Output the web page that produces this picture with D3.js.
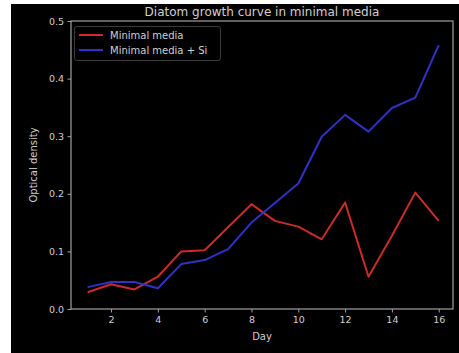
<!DOCTYPE html>
<html lang="en">
<head>
<meta charset="UTF-8">
<script src="https://cdn.jsdelivr.net/npm/d3@7"></script>
<title>Diatom growth</title>
<style>
  body { margin: 0; background: #fff; }
  text { font-family: "DejaVu Sans", sans-serif; }
</style>
</head>
<body>
<script>
    var days = [1, 2, 3, 4, 5, 6, 7, 8, 9, 10, 11, 12, 13, 14, 15, 16];
    var minimal = [0.029, 0.043, 0.034, 0.056, 0.100, 0.102, 0.142, 0.182, 0.153, 0.143, 0.121, 0.185, 0.056, 0.127, 0.202, 0.153];
    var minimalSi = [0.038, 0.047, 0.047, 0.036, 0.078, 0.085, 0.104, 0.150, 0.184, 0.218, 0.299, 0.337, 0.308, 0.349, 0.367, 0.458];
    var xTicks = [2, 4, 6, 8, 10, 12, 14, 16];
    var yTicks = [0.0, 0.1, 0.2, 0.3, 0.4, 0.5];
    var seriesNames = ["Minimal media", "Minimal media + Si"];
    var seriesColors = ["#cc2b2b", "#3131c8"];

    var width = 459, height = 353;
    var plotL = 71, plotR = 453, plotT = 21, plotB = 309;   // "top" is taken by window.top

    var svg = d3.select("body").append("svg")
            .attr("width", width)
            .attr("height", height);

    // dark figure background
    svg.append("rect")
            .attr("x", 11).attr("y", 4)
            .attr("width", width - 11).attr("height", height - 4)
            .attr("fill", "#000");

    var x = d3.scaleLinear().domain([0.29, 16.61]).range([plotL, plotR]);
    var y = d3.scaleLinear().domain([0, 0.5]).range([plotB, plotT]);

    var grey = "#a0a0a0";
    var textCol = "#cfcfcf";

    var xAxis = svg.append("g")
            .attr("transform", "translate(0," + plotB + ")")
            .call(d3.axisBottom(x).tickValues(xTicks).tickSize(3.5).tickPadding(3.5).tickFormat(d3.format("d")));
    var yAxis = svg.append("g")
            .attr("transform", "translate(" + plotL + ",0)")
            .call(d3.axisLeft(y).tickValues(yTicks).tickSize(3.5).tickPadding(3.5).tickFormat(d3.format(".1f")));

    [xAxis, yAxis].forEach(function (g) {
        g.select(".domain").remove();
        g.selectAll("line").attr("stroke", grey);
        g.selectAll("text").attr("fill", textCol).style("font-size", "9.5px")
                .style("font-family", "DejaVu Sans");
    });

    // spines
    svg.append("rect")
            .attr("x", plotL).attr("y", plotT)
            .attr("width", plotR - plotL).attr("height", plotB - plotT)
            .attr("fill", "none").attr("stroke", grey).attr("stroke-width", 1.2);

    var line = d3.line()
            .x(function (d, i) { return x(days[i]); })
            .y(function (d) { return y(d); });

    [minimal, minimalSi].forEach(function (s, k) {
        svg.append("path")
                .datum(s)
                .attr("d", line)
                .attr("fill", "none")
                .attr("stroke", seriesColors[k])
                .attr("stroke-width", 2)
                .attr("stroke-linejoin", "round");
    });

    svg.append("text")
            .attr("x", (plotL + plotR) / 2).attr("y", 16)
            .attr("text-anchor", "middle")
            .attr("fill", textCol)
            .style("font-size", "12px")
            .text("Diatom growth curve in minimal media");

    svg.append("text")
            .attr("x", (plotL + plotR) / 2).attr("y", 340)
            .attr("text-anchor", "middle")
            .attr("fill", textCol)
            .style("font-size", "10px")
            .text("Day");

    svg.append("text")
            .attr("transform", "translate(37," + (plotT + plotB) / 2 + ") rotate(-90)")
            .attr("text-anchor", "middle")
            .attr("fill", textCol)
            .style("font-size", "10px")
            .text("Optical density");

    // legend
    var legend = svg.append("g");
    legend.append("rect")
            .attr("x", 74.5).attr("y", 26.5)
            .attr("width", 146).attr("height", 34)
            .attr("rx", 2.5)
            .attr("fill", "#000").attr("stroke", "#3a3a3a");
    seriesNames.forEach(function (name, k) {
        var ly = 35 + k * 15;
        legend.append("line")
                .attr("x1", 79).attr("x2", 103)
                .attr("y1", ly).attr("y2", ly)
                .attr("stroke", seriesColors[k]).attr("stroke-width", 2);
        legend.append("text")
                .attr("x", 110).attr("y", ly + 3.5)
                .attr("fill", textCol)
                .style("font-size", "10px")
                .text(name);
    });
</script>
</body>
</html>
